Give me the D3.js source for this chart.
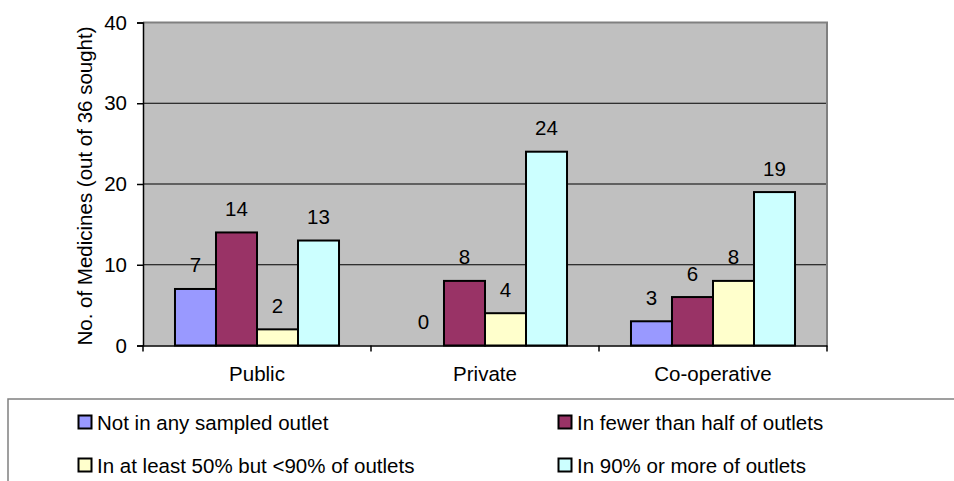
<!DOCTYPE html>
<html>
<head>
<meta charset="utf-8">
<script src="https://cdn.jsdelivr.net/npm/d3@7"></script>
<style>
  html, body { margin: 0; padding: 0; background: #fff; }
  svg { display: block; font-family: "Liberation Sans", Arial, sans-serif; }
</style>
</head>
<body>
<svg id="chart" width="954" height="481"></svg>
<script>
// Medicine availability by sector
const categories = ["Public", "Private", "Co-operative"];
const seriesNames = [
  "Not in any sampled outlet",
  "In fewer than half of outlets",
  "In at least 50% but <90% of outlets",
  "In 90% or more of outlets"
];
const notInAny = [7, 0, 3];
const fewerThanHalf = [14, 8, 6];
const atLeastHalf = [2, 4, 8];
const ninetyOrMore = [13, 24, 19];
const seriesValues = [notInAny, fewerThanHalf, atLeastHalf, ninetyOrMore];
const seriesColors = ["#9999FF", "#993366", "#FFFFCC", "#CCFFFF"];
const yTicks = [0, 10, 20, 30, 40];
const yTitle = "No. of Medicines (out of 36 sought)";

const FONT = 20.5;
const svg = d3.select("#chart");
const plot = { left: 143, right: 827, top: 22.5, bottom: 345.5 };

const x0 = d3.scaleBand().domain(categories).range([plot.left, plot.right]).paddingInner(0).paddingOuter(0);
// four adjoining bars centred in each category slot, with a wide gap between groups
const x1 = d3.scaleBand().domain(d3.range(seriesNames.length))
  .range([0, x0.bandwidth()]).paddingInner(0).paddingOuter(0.78);
const y = d3.scaleLinear().domain([0, 40]).range([plot.bottom, plot.top]);

// plot background
svg.append("rect")
  .attr("x", plot.left).attr("y", plot.top)
  .attr("width", plot.right - plot.left).attr("height", plot.bottom - plot.top)
  .attr("fill", "#C0C0C0");

// gridlines
svg.append("g").selectAll("line")
  .data(yTicks.filter(t => t > 0 && t < 40))
  .join("line")
  .attr("x1", plot.left).attr("x2", plot.right)
  .attr("y1", d => y(d)).attr("y2", d => y(d))
  .attr("stroke", "#000").attr("stroke-width", 1);

// top and right frame
svg.append("path")
  .attr("d", `M${plot.left},${plot.top}H${plot.right}V${plot.bottom}`)
  .attr("fill", "none").attr("stroke", "#808080").attr("stroke-width", 2);

// bars
const cellData = (c, ci) => seriesValues.map((vals, si) => ({ si, v: vals[ci] }));
const groups = svg.append("g").selectAll("g")
  .data(categories)
  .join("g")
  .attr("transform", d => `translate(${x0(d)},0)`);

groups.selectAll("rect")
  .data(cellData)
  .join("rect")
  .attr("x", d => x1(d.si))
  .attr("width", x1.bandwidth())
  .attr("y", d => y(d.v))
  .attr("height", d => y(0) - y(d.v))
  .attr("fill", d => seriesColors[d.si])
  .attr("stroke", "#000")
  .attr("stroke-width", d => d.v > 0 ? 2 : 0);

// value labels
groups.selectAll("text")
  .data(cellData)
  .join("text")
  .attr("x", d => x1(d.si) + x1.bandwidth() / 2)
  .attr("y", d => y(d.v) - 16.5)
  .attr("text-anchor", "middle")
  .attr("font-size", FONT)
  .attr("fill", "#000")
  .text(d => d.v);

// y axis
const yAxis = svg.append("g")
  .attr("transform", `translate(${plot.left},0)`)
  .call(d3.axisLeft(y).tickValues(yTicks).tickSize(6).tickPadding(10));
yAxis.select(".domain").attr("stroke", "#000").attr("stroke-width", 1.5);
yAxis.selectAll(".tick line").attr("stroke", "#000").attr("stroke-width", 1.5);
yAxis.selectAll(".tick text").attr("font-size", FONT).attr("font-family", "Liberation Sans, Arial, sans-serif").attr("fill", "#000");

// x axis
const xAxis = svg.append("g")
  .attr("transform", `translate(0,${plot.bottom})`)
  .call(d3.axisBottom(x0).tickSize(0).tickPadding(21));
xAxis.select(".domain").attr("stroke", "#000").attr("stroke-width", 1.5);
xAxis.selectAll(".tick text").attr("font-size", FONT).attr("font-family", "Liberation Sans, Arial, sans-serif").attr("fill", "#000");
// category separators
const sepX = categories.map(c => x0(c)).concat([plot.right]);
svg.append("g").selectAll("line")
  .data(sepX).join("line")
  .attr("x1", d => d).attr("x2", d => d)
  .attr("y1", plot.bottom).attr("y2", plot.bottom + 6)
  .attr("stroke", "#000").attr("stroke-width", 1.5);

// y title
svg.append("text")
  .attr("transform", `translate(84,${(plot.top + plot.bottom) / 2 + 2}) rotate(-90)`)
  .attr("text-anchor", "middle")
  .attr("dominant-baseline", "central")
  .attr("font-size", FONT)
  .text(yTitle);

// legend
const legend = svg.append("g");
legend.append("path")
  .attr("d", "M8,500V399H960")
  .attr("fill", "none").attr("stroke", "#808080").attr("stroke-width", 1.5);
const legendPos = [[77, 422], [557, 422], [77, 465], [557, 465]];
const items = legend.selectAll("g.item")
  .data(seriesNames)
  .join("g")
  .attr("class", "item")
  .attr("transform", (d, i) => `translate(${legendPos[i][0]},${legendPos[i][1]})`);
items.append("rect")
  .attr("x", 1.5).attr("y", -6.5).attr("width", 13).attr("height", 13)
  .attr("fill", (d, i) => seriesColors[i])
  .attr("stroke", "#000").attr("stroke-width", 2);
items.append("text")
  .attr("x", 20).attr("y", 0)
  .attr("dominant-baseline", "central")
  .attr("font-size", FONT)
  .text(d => d);
</script>
</body>
</html>
